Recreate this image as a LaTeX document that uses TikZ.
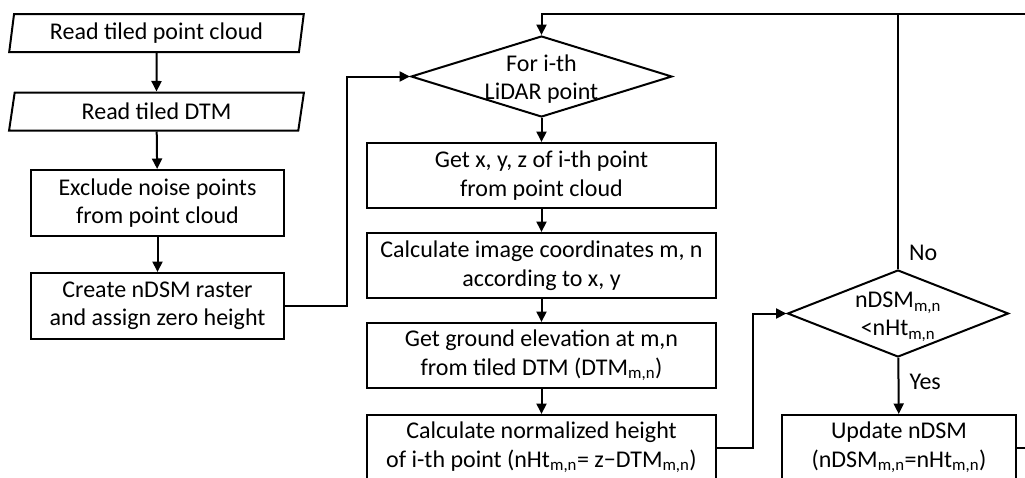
\documentclass[tikz,border=0pt]{standalone}
\usepackage{fontspec}
\setmainfont{Carlito}
\usepackage{tikz}
\usetikzlibrary{arrows.meta}
\usetikzlibrary{shapes.geometric}
\tikzset{
    fnode/.style = {align=center, inner sep=0pt, text centered, draw=black, line width=2pt, font=\fontsize{24}{28.5}\selectfont},
    io_node/.style = {fnode, trapezium, trapezium left angle=80, trapezium right angle=100, trapezium stretches=true, minimum width=295pt, minimum height=38pt},
    proc_node/.style = {fnode, rectangle, minimum width=253pt, minimum height=66pt},
    wide_node/.style = {fnode, rectangle, minimum width=349pt, minimum height=65pt},
    loop_node/.style = {fnode, diamond, minimum width=261pt, minimum height=81pt},
    cmp_node/.style = {fnode, diamond, minimum width=221pt, minimum height=87pt},
    dtext/.style = {align=center, inner sep=0pt, font=\fontsize{24}{28}\selectfont},
    lbl/.style = {align=left, inner sep=0pt, anchor=west, font=\fontsize{24}{28}\selectfont}
}

\begin{document}
\begin{tikzpicture}[x=1pt, y=-1pt, line width=2pt, >={Triangle[width=10pt,length=10.5pt]}]
    \useasboundingbox (0,0) rectangle (1025,477);
    \clip (0,0) rectangle (1025,477);

    \node [io_node] (read_pc) at (156.5,33) {Read tiled point cloud};
    \node [io_node] (read_dtm) at (156.5,111.5) {Read tiled DTM};
    \node [proc_node] (exclude) at (157.5,203) {Exclude noise points\\from point cloud};
    \node [proc_node] (create) at (157.5,306) {Create nDSM raster\\and assign zero height};

    \node [loop_node, label={[dtext, yshift=-2.5pt]center:For i-th\\LiDAR point}] (for_pt) at (541.5,76.5) {};
    \node [wide_node] (get_xyz) at (541.5,175.5) {Get x, y, z of i-th point\\from point cloud};
    \node [wide_node] (img_mn) at (541.5,265.5) {Calculate image coordinates m, n\\according to x, y};
    \node [wide_node] (ground) at (541.5,355.5) {Get ground elevation at m,n\\from tiled DTM (DTM\textsubscript{m,n})};
    \node [wide_node] (norm_ht) at (541.5,447.5) {Calculate normalized height\\of i-th point (nHt\textsubscript{m,n}= z−DTM\textsubscript{m,n})};

    \node [cmp_node, label={[dtext, yshift=-3pt]center:nDSM\textsubscript{m,n}\\<nHt\textsubscript{m,n}}] (compare) at (898,313.5) {};
    \node [fnode, rectangle, minimum width=234pt, minimum height=65pt] (update) at (899,447.5) {Update nDSM\\(nDSM\textsubscript{m,n}=nHt\textsubscript{m,n})};

    \coordinate (top_right) at (1030,14);
    \coordinate (bottom_right) at (1030,447);

    \draw [->] (read_pc) -- (read_dtm);
    \draw [->] (read_dtm) -- (exclude);
    \draw [->] (exclude) -- (create);
    \draw [->] (create.east) -- ++(62,0) |- (for_pt.west);
    \draw [->] (for_pt) -- (get_xyz);
    \draw [->] (get_xyz) -- (img_mn);
    \draw [->] (img_mn) -- (ground);
    \draw [->] (ground) -- (norm_ht);
    \draw [->] (norm_ht.east) -- ++(36,0) |- (compare.west);
    \draw [->] (compare) -- (update) node [lbl, pos=0.43, xshift=10pt] {Yes};
    \draw (compare.north) -- (compare.north |- top_right) node [lbl, pos=0.063, xshift=10pt] {No};
    \draw [->] (top_right) -| (for_pt.north);
    \draw (update.east) -- (update.east -| bottom_right);
\end{tikzpicture}
\end{document}
